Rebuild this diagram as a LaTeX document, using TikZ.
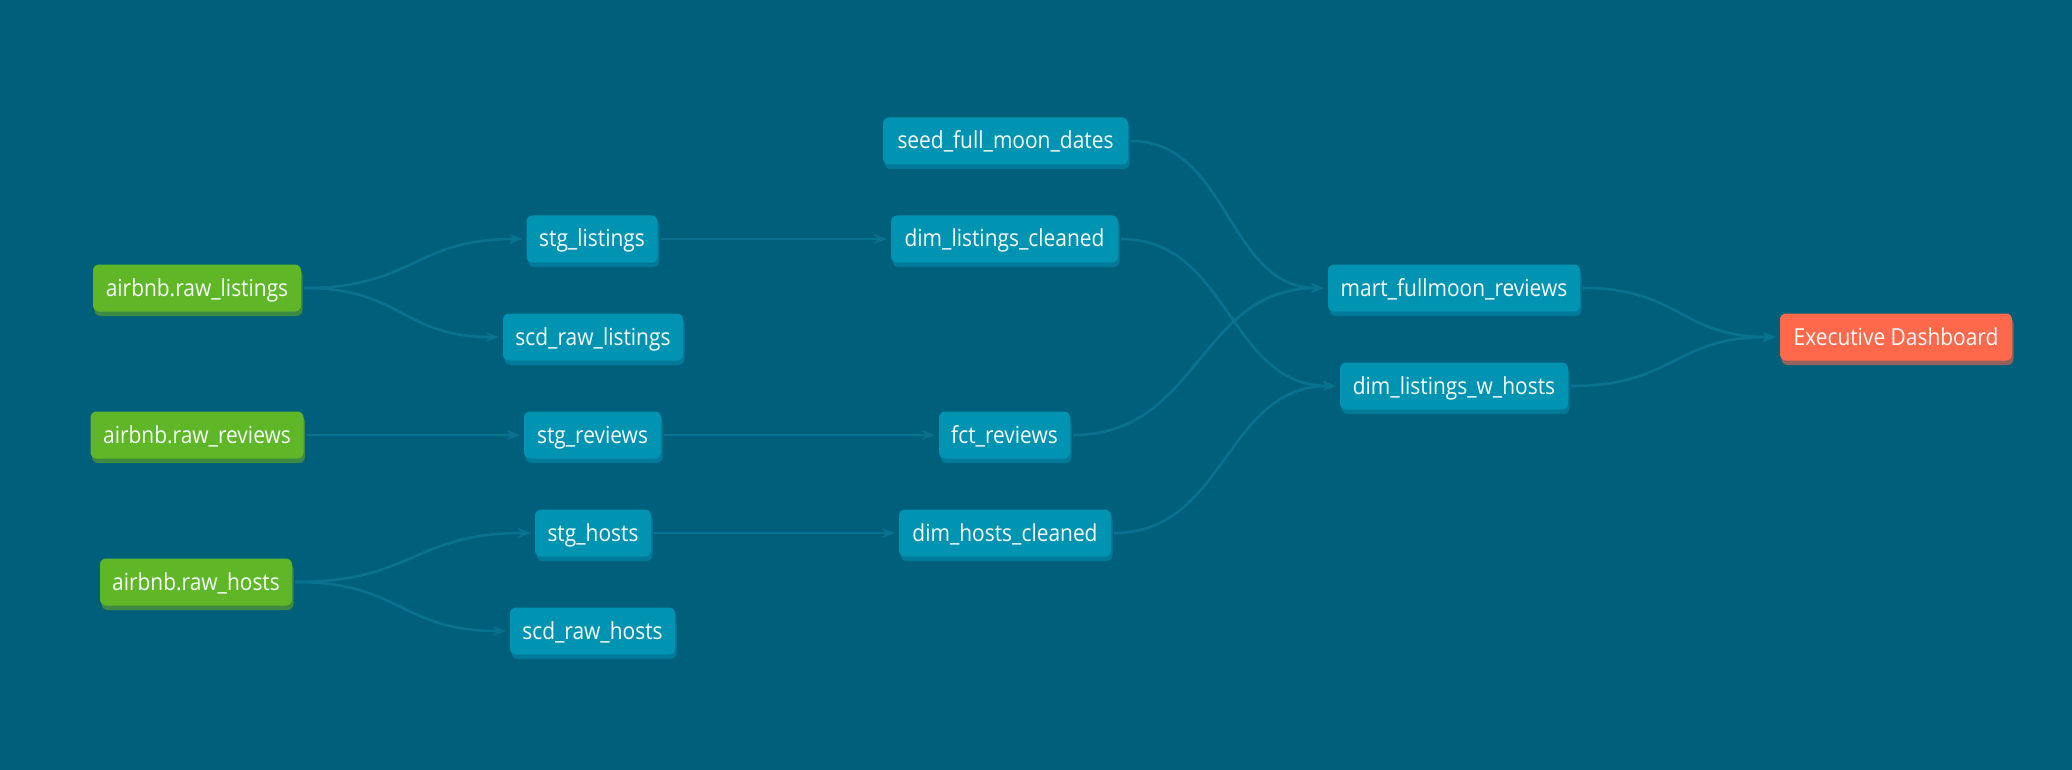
\documentclass[tikz,border=0pt]{standalone}
\usepackage{fontspec}
\setmainfont[FakeStretch=0.89]{Open Sans}
\usetikzlibrary{arrows.meta,shadows,calc}
\definecolor{bg}{RGB}{0,95,122}
\definecolor{mfill}{RGB}{0,148,178}
\definecolor{mshadow}{RGB}{0,122,152}
\definecolor{sfill}{RGB}{95,183,40}
\definecolor{sshadow}{RGB}{62,138,66}
\definecolor{efill}{RGB}{255,105,75}
\definecolor{eshadow}{RGB}{150,96,92}
\definecolor{edgec}{RGB}{10,114,145}
\definecolor{txt}{RGB}{245,248,248}
\tikzset{
  box/.style={rounded corners=6pt, minimum height=47pt, inner sep=0pt,
    text height=20pt, text depth=4pt, text=txt,
    font=\fontsize{23.5}{27}\selectfont},
  mdl/.style={box, fill=mfill, drop shadow={shadow xshift=1.5pt, shadow yshift=-4.5pt, fill=mshadow, opacity=1}},
  src/.style={box, fill=sfill, drop shadow={shadow xshift=1.5pt, shadow yshift=-4.5pt, fill=sshadow, opacity=1}},
  expo/.style={box, fill=efill, drop shadow={shadow xshift=1.5pt, shadow yshift=-4.5pt, fill=eshadow, opacity=1}},
  flow/.style={to path={let \p1=(\tikztostart), \p2=(\tikztotarget), \n1={(\x2-\x1)/2} in
      .. controls +(\n1,0) and +(-\n1,0) .. (\tikztotarget)}},
  link/.style={draw=edgec, line width=2.6pt, shorten <=3pt, shorten >=4pt,
    -{Stealth[length=13pt,width=10pt,inset=4pt]}, flow},
}
\begin{document}
\begin{tikzpicture}[x=1pt,y=-1pt]
\useasboundingbox[fill=bg] (0,0) rectangle (2072,770);
% sources
\node[src, minimum width=208pt] (rl) at (197,288) {airbnb.raw\_listings};
\node[src, minimum width=213pt] (rr) at (197,435) {airbnb.raw\_reviews};
\node[src, minimum width=192pt] (rh) at (196,582) {airbnb.raw\_hosts};
% column B
\node[mdl, minimum width=131pt] (sl) at (592,239) {stg\_listings};
\node[mdl, minimum width=180pt] (scl) at (593,337) {scd\_raw\_listings};
\node[mdl, minimum width=137pt] (sr) at (592.5,435) {stg\_reviews};
\node[mdl, minimum width=116pt] (sh) at (593,533) {stg\_hosts};
\node[mdl, minimum width=165pt] (sch) at (592.5,631) {scd\_raw\_hosts};
% column C
\node[mdl, minimum width=245pt] (seed) at (1005.5,141) {seed\_full\_moon\_dates};
\node[mdl, minimum width=227pt] (dlc) at (1004.5,239) {dim\_listings\_cleaned};
\node[mdl, minimum width=131pt] (fct) at (1004.5,435) {fct\_reviews};
\node[mdl, minimum width=212pt] (dhc) at (1005,533) {dim\_hosts\_cleaned};
% column D
\node[mdl, minimum width=252pt] (mart) at (1454,288) {mart\_fullmoon\_reviews};
\node[mdl, minimum width=228pt] (dlwh) at (1454,386) {dim\_listings\_w\_hosts};
% exposure
\node[expo, minimum width=232pt] (exec) at (1896,337) {Executive Dashboard};
% edges
\draw[link] (rl.east) to (sl.west);
\draw[link] (rl.east) to (scl.west);
\draw[link] (rr.east) to (sr.west);
\draw[link] (rh.east) to (sh.west);
\draw[link] (rh.east) to (sch.west);
\draw[link] (sl.east) to (dlc.west);
\draw[link] (sr.east) to (fct.west);
\draw[link] (sh.east) to (dhc.west);
\draw[link] (seed.east) to (mart.west);
\draw[link] (fct.east) to (mart.west);
\draw[link] (dlc.east) to (dlwh.west);
\draw[link] (dhc.east) to (dlwh.west);
\draw[link] (mart.east) to (exec.west);
\draw[link] (dlwh.east) to (exec.west);
\end{tikzpicture}
\end{document}
